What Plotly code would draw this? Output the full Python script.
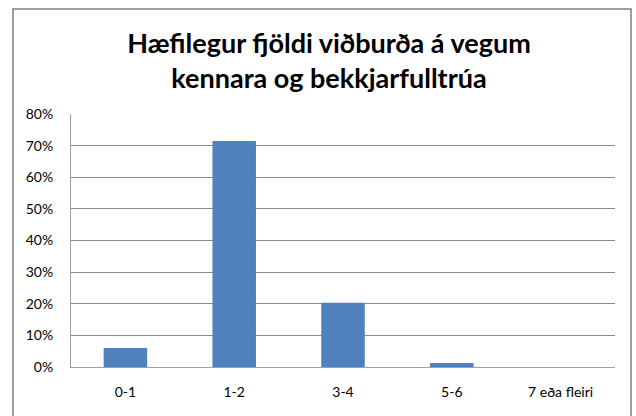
import plotly.graph_objects as go

categories = ["0-1", "1-2", "3-4", "5-6", "7 eða fleiri"]
values = [6.0, 71.5, 20.3, 1.3, 0.0]
y_ticks = [0, 10, 20, 30, 40, 50, 60, 70, 80]
y_tick_labels = [f"{v}%" for v in y_ticks]
title_text = "Hæfilegur fjöldi viðburða á vegum<br>kennara og bekkjarfulltrúa"

W, H = 636, 416
ml, mr, mt, mb = 71, 21, 114, 49
pw, ph = W - ml - mr, H - mt - mb

fig = go.Figure(go.Bar(x=categories, y=values, marker=dict(color="#4F81BD", line=dict(width=0)),
                       width=0.4))

fig.update_layout(
    width=W, height=H,
    margin=dict(l=ml, r=mr, t=mt, b=mb, autoexpand=False),
    paper_bgcolor="white", plot_bgcolor="white",
    font=dict(family="Lato, Carlito, sans-serif", size=13, color="#000000"),
    title=dict(text=title_text, x=329 / W, xanchor="center", xref="container",
               y=1 - 53 / H, yanchor="middle", yref="container", automargin=False,
               font=dict(family="Lato, Carlito, sans-serif", size=27, color="#000000", weight="bold")),
    showlegend=False,
    bargap=0.6,
)
fig.update_xaxes(showline=True, linecolor="#A0A0A0", linewidth=1, showgrid=False, automargin=False,
                 ticks="outside", ticklen=12, tickcolor="rgba(0,0,0,0)", tickfont=dict(size=14))
fig.update_yaxes(range=[0, 80], tickvals=y_ticks, ticktext=y_tick_labels, automargin=False,
                 showgrid=True, gridcolor="#8C8C8C", gridwidth=1,
                 showline=True, linecolor="#A0A0A0", linewidth=1, zeroline=False,
                 ticks="outside", ticklen=14, tickcolor="rgba(0,0,0,0)", tickfont=dict(size=14))
# outer chart border
fig.add_shape(type="rect", xref="paper", yref="paper",
              x0=(13 - ml) / pw, x1=(631 - ml) / pw,
              y0=-(mb + 20) / ph, y1=(H - mb - 9) / ph,
              line=dict(color="#808080", width=1.5), fillcolor="rgba(0,0,0,0)", layer="below")

fig.write_html("out.html", config={"displayModeBar": False},
               post_script="document.body.style.margin='0';document.body.style.padding='0';")
